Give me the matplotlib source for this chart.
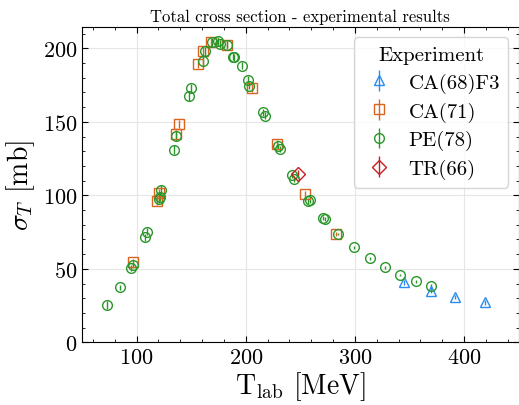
import matplotlib
matplotlib.use("Agg")
import matplotlib.pyplot as plt

# ---- data ----
ca68_T = [345.2, 369.4, 391.7, 418.9]
ca68_s = [40.8, 35.1, 31.0, 27.2]
ca68_e = [1.5, 1.5, 1.5, 1.5]

ca71_T = [96.9, 118.9, 120.2, 135.8, 138.5, 156.0, 160.5, 168.0, 182.5, 205.5, 228.4, 254.4, 282.8]
ca71_s = [54.8, 96.3, 101.6, 141.7, 148.5, 189.3, 198.0, 204.0, 202.4, 173.0, 134.9, 100.9, 73.7]
ca71_e = [2.0, 3.0, 3.0, 3.0, 3.0, 3.0, 3.0, 3.0, 3.0, 3.0, 2.5, 2.0, 1.5]

pe78_T = [72.5, 84.7, 94.8, 96.9, 107.9, 109.7, 120.7, 121.0, 122.3, 134.2, 135.8,
          148.0, 149.5, 161.0, 163.0, 169.4, 174.9, 176.0, 182.5, 188.0, 189.6,
          196.6, 201.8, 203.0, 216.2, 217.7, 229.9, 231.5, 242.7, 244.3, 257.4,
          259.0, 271.2, 272.5, 284.4, 299.4, 313.4, 327.2, 341.6, 355.6, 369.7]
pe78_s = [25.4, 37.4, 50.3, 52.8, 71.4, 75.2, 97.5, 99.0, 103.8, 131.0, 140.1,
          167.3, 173.0, 191.6, 198.0, 204.0, 204.8, 203.0, 202.4, 194.3, 193.9,
          188.2, 178.4, 174.6, 156.5, 154.2, 133.3, 131.5, 113.8, 111.1, 96.3,
          96.8, 84.4, 84.0, 73.7, 64.6, 57.3, 51.0, 45.8, 41.5, 38.1]
pe78_e = [2.5, 1.5, 2.0, 2.0, 2.5, 2.5, 3.0, 3.0, 3.0, 3.0, 3.0,
          3.0, 3.0, 3.0, 3.0, 3.0, 3.0, 3.0, 2.5, 2.5, 2.5,
          2.5, 2.5, 2.5, 2.5, 2.5, 2.0, 2.0, 2.0, 2.0, 2.0,
          2.0, 1.5, 1.5, 1.0, 1.0, 1.0, 1.0, 1.0, 1.0, 1.5]

tr66_T = [248.0]
tr66_s = [114.5]
tr66_e = [3.0]

plt.rcParams['font.family'] = 'serif'
plt.rcParams['font.serif'] = ['cmr10', 'DejaVu Serif']
plt.rcParams['mathtext.fontset'] = 'cm'
plt.rcParams['axes.formatter.use_mathtext'] = True
plt.rcParams['axes.unicode_minus'] = False

fig = plt.figure(figsize=(5.19, 4.06), dpi=100)
ax = fig.add_axes([0.158, 0.1544, 0.8413, 0.7766])

blue = '#2b8cf0'
orange = '#d8641e'
green = '#2a962a'
red = '#c42024'

kw = dict(ls='none', mfc='none', ms=7, mew=1.0, elinewidth=1.0, capsize=0)
ax.errorbar(ca68_T, ca68_s, yerr=ca68_e, fmt='^', color=blue, mec=blue, label='CA(68)F3', **kw)
ax.errorbar(ca71_T, ca71_s, yerr=ca71_e, fmt='s', color=orange, mec=orange, label='CA(71)', **kw)
ax.errorbar(pe78_T, pe78_s, yerr=pe78_e, fmt='o', color=green, mec=green, label='PE(78)', **kw)
ax.errorbar(tr66_T, tr66_s, yerr=tr66_e, fmt='D', color=red, mec=red, label='TR(66)', **kw)

ax.set_xlim(50, 450)
ax.set_ylim(0, 214.5)
ax.set_xticks([100, 200, 300, 400])
ax.set_yticks([0, 50, 100, 150, 200])
ax.set_xticks(range(60, 451, 20), minor=True)
ax.set_yticks(range(0, 215, 10), minor=True)
ax.tick_params(which='both', direction='in', top=True, right=True, labelsize=16)
ax.tick_params(which='major', length=4, width=0.8)
ax.tick_params(which='minor', length=2, width=0.6)
ax.grid(True, which='major', color='#e6e6e6', lw=0.8)
ax.set_axisbelow(True)

ax.set_xlabel(r'T$_{\mathrm{lab}}$ [MeV]', fontsize=20, labelpad=2)
ax.set_ylabel(r'$\sigma_T$ [mb]', fontsize=20, labelpad=4)
ax.set_title('Total cross section - experimental results', fontsize=12, pad=4)

leg = ax.legend(title='Experiment', loc='upper right', fontsize=15, title_fontsize=15,
                frameon=True, fancybox=True, framealpha=0.8, edgecolor='#cccccc',
                handlelength=1.6, handletextpad=0.6, labelspacing=0.42,
                borderaxespad=0.5)

fig.savefig('out.png', dpi=100)
